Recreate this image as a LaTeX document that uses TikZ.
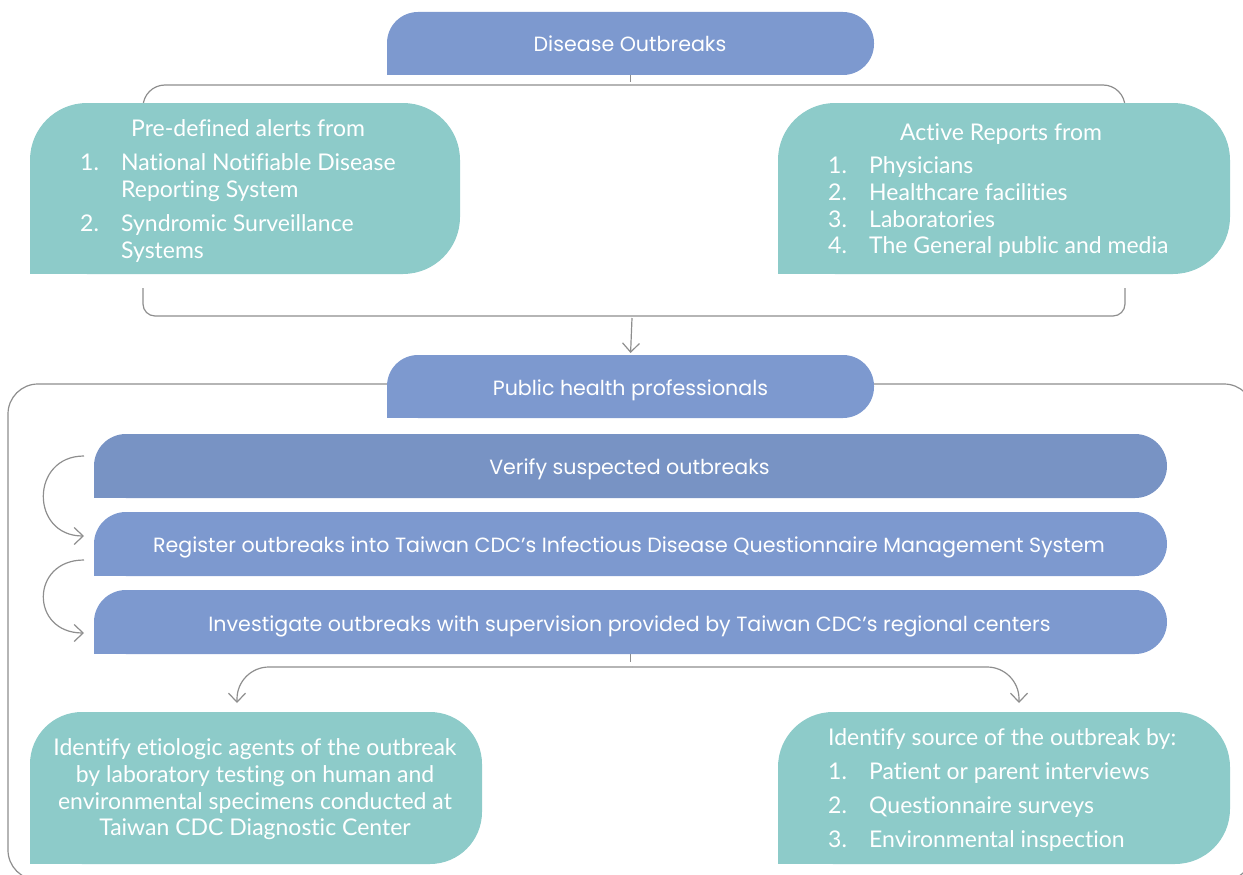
\documentclass[tikz,border=0pt]{standalone}
\usepackage{fontspec}
\setmainfont{Lato}[Ligatures=NoCommon]
\newfontfamily\gothic{Poppins}[Ligatures=NoCommon]
\usetikzlibrary{arrows.meta}
\definecolor{bluebox}{HTML}{7D99CF}
\definecolor{bluedark}{HTML}{7893C4}
\definecolor{tealbox}{HTML}{8DCBC9}
\definecolor{linegray}{HTML}{8E8E8E}
\newcommand\leafshape[3]{%
  \fill[#2, rounded corners=#3] (#1.south west) rectangle (#1.north east);
  \fill[#2] (#1.south west) rectangle (#1.center);
}
\tikzset{
  frame/.style={inner sep=0pt, outer sep=0pt},
  conn/.style={draw=linegray, line width=1.2pt},
  barb/.style={-{Straight Barb[length=9pt,width=17pt]}},
  btxt/.style={text=white, inner sep=0pt, font=\gothic\fontsize{20.6}{24}\selectfont},
  ttxt/.style={text=white, inner sep=0pt, font=\fontsize{23}{27}\selectfont},
}
\begin{document}
\begin{tikzpicture}[x=1pt,y=-1pt]
\useasboundingbox (0,0) rectangle (1243,875);
% invisible box nodes
\node[frame, minimum width=487pt, minimum height=63pt] (do) at (630.5,43.5) {};
\node[frame, minimum width=430pt, minimum height=171pt] (pre) at (245,188.5) {};
\node[frame, minimum width=452pt, minimum height=171pt] (act) at (1004,188.5) {};
\node[frame, minimum width=487pt, minimum height=63pt] (ph) at (630.5,386.5) {};
\node[frame, minimum width=1073pt, minimum height=64pt] (ver) at (630.5,466) {};
\node[frame, minimum width=1073pt, minimum height=64pt] (reg) at (630.5,544) {};
\node[frame, minimum width=1073pt, minimum height=64pt] (inv) at (630.5,622) {};
\node[frame, minimum width=452pt, minimum height=152pt] (eti) at (256,788) {};
\node[frame, minimum width=452pt, minimum height=152pt] (src) at (1004,788) {};
% connector end points
\coordinate (tl) at (143,103);
\coordinate (tm) at (632,85);
\coordinate (tr) at (1125,103);
\coordinate (bl) at (143,288);
\coordinate (bm) at (632,316);
\coordinate (br) at (1125,288);
\coordinate (l1s) at (84,456);
\coordinate (l1e) at (84,536);
\coordinate (l2s) at (84,560);
\coordinate (l2e) at (84,633);
\coordinate (bb) at (632,667);
\coordinate (al) at (237,703);
\coordinate (ar) at (1019,703);
% outer frame
\draw[conn, rounded corners=30] (8,384) rectangle (1254,880);
% connectors
\draw[conn] (do.south) -- ++(0,7);
\draw[conn, rounded corners=22] (tl) |- (tm) -| (tr);
\draw[conn, rounded corners=12] (bl) |- (bm) -| (br);
\draw[conn, barb, shorten >=2pt] (bm) ++(0,2) -- (ph.north);
\draw[conn, barb] (l1s) .. controls (30,456) and (30,536) .. (l1e);
\draw[conn, barb] (l2s) .. controls (30,560) and (30,633) .. (l2e);
\draw[conn] (inv.south) -- ++(0,8);
\draw[conn, barb, rounded corners=32] (bb) -| (al);
\draw[conn, barb, rounded corners=32] (bb) -| (ar);
% shapes
\leafshape{do}{bluebox}{31}
\leafshape{pre}{tealbox}{57}
\leafshape{act}{tealbox}{57}
\leafshape{ph}{bluebox}{31}
\leafshape{ver}{bluedark}{32}
\leafshape{reg}{bluebox}{32}
\leafshape{inv}{bluebox}{32}
\leafshape{eti}{tealbox}{52}
\leafshape{src}{tealbox}{55}
% blue texts
\node[btxt, anchor=base] (tdo) at (630,52) {Disease Outbreaks};
\node[btxt, anchor=base] (tph) at (630.5,395) {Public health professionals};
\node[btxt, anchor=base] (tver) at (629.5,474) {Verify suspected outbreaks};
\node[btxt, anchor=base] (treg) at (629,552) {Register outbreaks into Taiwan CDC’s Infectious Disease Questionnaire Management System};
\node[btxt, anchor=base] (tinv) at (629.5,631) {Investigate outbreaks with supervision provided by Taiwan CDC’s regional centers};
% pre-defined alerts
\node[ttxt, anchor=base west] (p0) at (131,136) {Pre-defined alerts from};
\node[ttxt, anchor=base west] (p1n) at (80,170) {1.};
\node[ttxt, anchor=base west] (p1a) at (121,170) {National Notifiable Disease};
\node[ttxt, anchor=base west] (p1b) at (121,197) {Reporting System};
\node[ttxt, anchor=base west] (p2n) at (80,231) {2.};
\node[ttxt, anchor=base west] (p2a) at (121,231) {Syndromic Surveillance};
\node[ttxt, anchor=base west] (p2b) at (121,258) {Systems};
% active reports
\node[ttxt, anchor=base west] (a0) at (900,140) {Active Reports from};
\node[ttxt, anchor=base west] (a1n) at (828,173) {1.};
\node[ttxt, anchor=base west] (a1) at (869,173) {Physicians};
\node[ttxt, anchor=base west] (a2n) at (828,200) {2.};
\node[ttxt, anchor=base west] (a2) at (869,200) {Healthcare facilities};
\node[ttxt, anchor=base west] (a3n) at (828,227) {3.};
\node[ttxt, anchor=base west] (a3) at (869,227) {Laboratories};
\node[ttxt, anchor=base west] (a4n) at (828,253) {4.};
\node[ttxt, anchor=base west] (a4) at (869,253) {The General public and media};
% etiologic
\node[ttxt, anchor=base] (e1) at (255,755) {Identify etiologic agents of the outbreak};
\node[ttxt, anchor=base] (e2) at (255,782) {by laboratory testing on human and};
\node[ttxt, anchor=base] (e3) at (255,809) {environmental specimens conducted at};
\node[ttxt, anchor=base] (e4) at (255,835) {Taiwan CDC Diagnostic Center};
% source
\node[ttxt, anchor=base west] (s0) at (828,745) {Identify source of the outbreak by:};
\node[ttxt, anchor=base west] (s1n) at (828,779) {1.};
\node[ttxt, anchor=base west] (s1) at (869,779) {Patient or parent interviews};
\node[ttxt, anchor=base west] (s2n) at (828,813) {2.};
\node[ttxt, anchor=base west] (s2) at (869,813) {Questionnaire surveys};
\node[ttxt, anchor=base west] (s3n) at (828,847) {3.};
\node[ttxt, anchor=base west] (s3) at (869,847) {Environmental inspection};
\end{tikzpicture}
\end{document}
